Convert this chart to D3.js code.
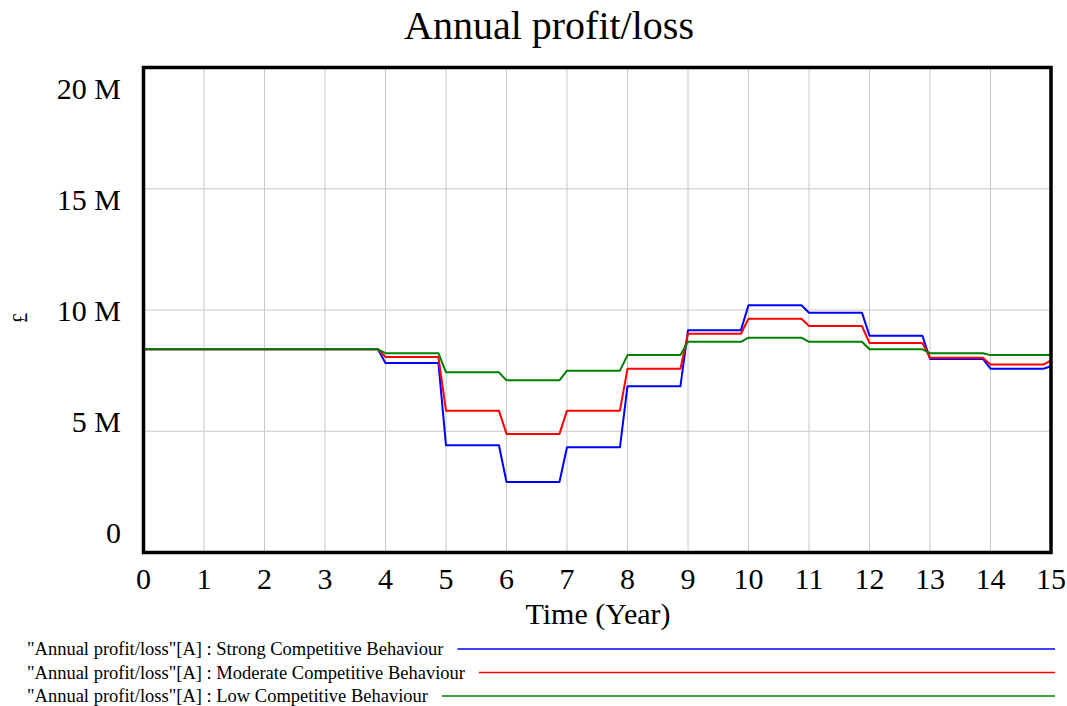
<!DOCTYPE html>
<html><head><meta charset="utf-8">
<script src="https://cdn.jsdelivr.net/npm/d3@7"></script>
<style>body{margin:0;background:#fff}svg{display:block}text{font-family:"Liberation Serif","Times New Roman",serif;fill:#000}</style>
</head><body><svg id="c" width="1067" height="706"></svg>
<script>
// Yearly levels (value held over each year, last entry = value at t=15), in £
const years = [0,1,2,3,4,5,6,7,8,9,10,11,12,13,14,15];
const strong   = [8.38,8.38,8.38,8.38,7.81,4.42,2.91,4.34,6.86,9.17,10.2,9.89,8.94,7.98,7.58,7.68].map(v=>v*1e6);
const moderate = [8.38,8.38,8.38,8.38,8.06,5.85,4.89,5.85,7.58,9.02,9.64,9.34,8.64,8.03,7.75,7.92].map(v=>v*1e6);
const low      = [8.38,8.38,8.38,8.38,8.22,7.43,7.10,7.50,8.14,8.69,8.86,8.69,8.38,8.22,8.14,8.14].map(v=>v*1e6);
const xTicks = [0,1,2,3,4,5,6,7,8,9,10,11,12,13,14,15];
const yTicks = [0,5e6,10e6,15e6,20e6];
const yTickLabels = ["0","5 M","10 M","15 M","20 M"];
const seriesNames = ['"Annual profit/loss"[A] : Strong Competitive Behaviour','"Annual profit/loss"[A] : Moderate Competitive Behaviour','"Annual profit/loss"[A] : Low Competitive Behaviour'];
const colors = ["#0000ff","#ff0000","#008000"];
const step = 0.125;

const svg = d3.select("#c");
const L=143.5,R=1051,T=67.5,B=552.5;
const x = d3.scaleLinear().domain([0,15]).range([L,R]);
const y = d3.scaleLinear().domain([0,20e6]).range([B,T]);
const yLab = d3.scaleLinear().domain([0,20e6]).range([533,89]);

// grid
svg.append("g").selectAll("line").data(xTicks.slice(1,-1)).join("line")
  .attr("x1",d=>x(d)).attr("x2",d=>x(d)).attr("y1",T).attr("y2",B)
  .attr("stroke","#c8c8c8").attr("stroke-width",1);
svg.append("g").selectAll("line").data(yTicks.slice(1,-1)).join("line")
  .attr("x1",L).attr("x2",R).attr("y1",d=>y(d)).attr("y2",d=>y(d))
  .attr("stroke","#c8c8c8").attr("stroke-width",1);

function pts(levels){
  const p=[];
  for(let i=0;i<15;i++){p.push([years[i],levels[i]]);p.push([years[i]+1-step,levels[i]]);}
  p.push([15,levels[15]]);
  return p;
}
const line = d3.line().x(d=>x(d[0])).y(d=>y(d[1]));
[strong,moderate,low].forEach((s,i)=>{
  svg.append("path").attr("d",line(pts(s))).attr("fill","none")
    .attr("stroke",colors[i]).attr("stroke-width",2).attr("stroke-linejoin","round");
});

// frame
svg.append("rect").attr("x",L).attr("y",T).attr("width",R-L).attr("height",B-T)
  .attr("fill","none").attr("stroke","#000").attr("stroke-width",3.5);

// x tick labels
svg.append("g").selectAll("text").data(xTicks).join("text")
  .attr("x",d=>x(d)).attr("y",589).attr("text-anchor","middle")
  .attr("font-size",30).text(d=>d);
// y tick labels
svg.append("g").selectAll("text").data(yTicks).join("text")
  .attr("x",121).attr("y",d=>yLab(d)+10).attr("text-anchor","end")
  .attr("font-size",30).text((d,i)=>yTickLabels[i]);

svg.append("text").attr("x",549).attr("y",39).attr("text-anchor","middle").attr("font-size",40).text("Annual profit/loss");
svg.append("text").attr("x",598).attr("y",624).attr("text-anchor","middle").attr("font-size",30).text("Time (Year)");
svg.append("text").attr("transform","translate(27,318) rotate(-90)").attr("text-anchor","middle").attr("font-size",20).text("£");

// legend
const ly=[649,672.5,696];
seriesNames.forEach((n,i)=>{
  const t=svg.append("text").attr("x",27).attr("y",ly[i]+6).attr("font-size",18.5).text(n);
  const w=t.node().getComputedTextLength();
  svg.append("line").attr("x1",27+w+14).attr("x2",1055).attr("y1",ly[i]).attr("y2",ly[i])
    .attr("stroke",colors[i]).attr("stroke-width",1.5);
});
</script></body></html>
